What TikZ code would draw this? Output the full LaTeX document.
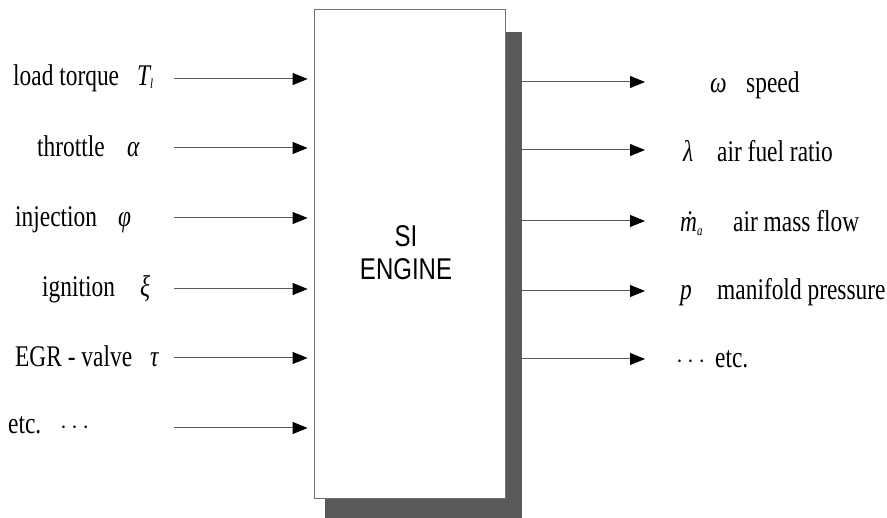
\documentclass[tikz,border=0pt]{standalone}
\usepackage{fontspec}
\setmainfont[FakeStretch=0.78]{Liberation Serif}
\newfontfamily\sansf[FakeStretch=0.8]{Liberation Sans}
\usetikzlibrary{arrows.meta}
\begin{document}
\begin{tikzpicture}[x=1pt,y=-1pt,
  lbl/.style={anchor=base west, inner sep=0pt, font=\fontsize{30}{34}\selectfont},
  sym/.style={anchor=base west, inner sep=0pt, font=\fontsize{30}{34}\selectfont\itshape},
  arr/.style={draw=black!65, line width=1pt, -{Triangle[length=15pt,width=12pt,color=black]}}
]
\useasboundingbox (0,0) rectangle (887,518);
% shadow and box
\fill[black!65] (325,32) rectangle (522,518);
\node[draw=black!55, fill=white, line width=0.8pt, minimum width=191, minimum height=489, inner sep=0pt] (box) at (409.5,253.5) {};
\node[font=\sansf\fontsize{30}{33}\selectfont, align=center] (title) at (406,253) {SI\\ENGINE};
% input labels
\node[lbl] (l1) at (13,86) {load torque};
\node[sym] (s1) at (137,86) {T\raisebox{-3pt}{\fontsize{14}{14}\selectfont l}};
\node[lbl] (l2) at (37,157) {throttle};
\node[sym] (s2) at (127,157) {α};
\node[lbl] (l3) at (15,227) {injection};
\node[sym] (s3) at (118,227) {φ};
\node[lbl] (l4) at (42,297) {ignition};
\node[sym] (s4) at (140,297) {ξ};
\node[lbl] (l5) at (15,367) {EGR - valve};
\node[sym] (s5) at (150,367) {τ};
\node[lbl] (l6) at (8,434) {etc.};
\node[lbl] (s6) at (60,434) {$\cdots$};
% input arrows
\coordinate (a1) at (174,79);
\coordinate (a2) at (174,148);
\coordinate (a3) at (174,218);
\coordinate (a4) at (174,289);
\coordinate (a5) at (174,358);
\coordinate (a6) at (174,428);
\foreach \i in {1,...,6} \draw[arr, shorten >=6pt] (a\i) -- (box.west |- a\i);
% output arrows
\coordinate (o1) at (645,82);
\coordinate (o2) at (645,150);
\coordinate (o3) at (645,221);
\coordinate (o4) at (645,291);
\coordinate (o5) at (645,359);
\foreach \i in {1,...,5} \draw[arr] (box.east |- o\i) -- (o\i);
% output labels
\node[sym] (y1) at (710,93) {ω};
\node[lbl] (r1) at (746,93) {speed};
\node[sym] (y2) at (683,162) {λ};
\node[lbl] (r2) at (717,162) {air fuel ratio};
\node[sym] (y3) at (680,232) {ṁ\raisebox{-4pt}{\fontsize{14}{14}\selectfont a}};
\node[lbl] (r3) at (733,232) {air mass flow};
\node[sym] (y4) at (680,300) {p};
\node[lbl] (r4) at (717,300) {manifold pressure};
\node[lbl] (y5) at (676,368) {$\cdots$};
\node[lbl] (r5) at (715,368) {etc.};
\end{tikzpicture}
\end{document}
